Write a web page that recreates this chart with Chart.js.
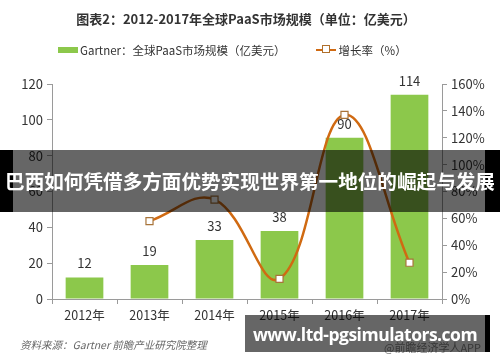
<!DOCTYPE html>
<html lang="zh">
<head>
<meta charset="UTF-8">
<script src="https://cdn.jsdelivr.net/npm/chart.js@4.4.0/dist/chart.umd.min.js"></script>
<style>
    body{
        margin: 0;
        padding: 0;
        background: #fff;
        font-family: 'Noto Sans CJK SC', 'Noto Sans', sans-serif;
    }
    .wrap{
        position: relative;
        width: 500px;
        height: 362px;
        overflow: hidden;
    }
    canvas{
        position: absolute;
        left: 0;
        top: 0;
    }
    .title{
        position: absolute;
        top: 9px;
        left: 0;
        width: 492px;
        text-align: center;
        font-size: 13px;
        font-weight: bold;
        color: #333;
    }
    .legend{
        position: absolute;
        top: 42px;
        left: 58px;
        font-size: 11.5px;
        color: #333;
        display: flex;
        align-items: center;
        white-space: nowrap;
    }
    .sw-bar{
        display: inline-block;
        width: 20px;
        height: 6px;
        background: #8cc84b;
        margin-right: 2px;
    }
    .sw-line{
        display: inline-block;
        position: relative;
        width: 20px;
        height: 2px;
        background: #d06a12;
        margin: 0 3px 0 30px;
    }
    .sw-line i{
        position: absolute;
        left: 6px;
        top: -4px;
        width: 6px;
        height: 6px;
        border: 1px solid #b0702c;
        background: #fff;
    }
    .source{
        position: absolute;
        left: 20px;
        top: 337px;
        font-size: 10.5px;
        font-style: italic;
        color: #666;
    }
    .app{
        position: absolute;
        left: 384px;
        top: 339px;
        font-size: 11px;
        color: #888;
    }
    .band{
        position: absolute;
        left: 0;
        top: 150px;
        width: 500px;
        height: 62px;
        background: linear-gradient(to right, #000 0, #000 13px, rgba(0,0,0,0.6) 13px, rgba(0,0,0,0.6) 485px, #000 485px);
    }
    .band span{
        position: absolute;
        left: 0;
        top: 18px;
        width: 500px;
        text-align: center;
        color: #fff;
        font-size: 19.6px;
        font-weight: bold;
        line-height: 26px;
        white-space: nowrap;
    }
    .site{
        position: absolute;
        left: 245px;
        top: 315px;
        width: 245px;
        height: 37px;
        background: linear-gradient(to right, rgba(0,0,0,0.6) 0, rgba(0,0,0,0.6) 240px, #000 240px);
    }
    .site span{
        position: absolute;
        left: 0;
        top: 7px;
        width: 240px;
        text-align: center;
        color: #fff;
        font-size: 17.5px;
        letter-spacing: -0.5px;
        font-weight: bold;
        line-height: 24px;
        font-family: 'Open Sans', sans-serif;
        white-space: nowrap;
    }
</style>
<title>PaaS</title>
</head>
<body>
<div class="wrap">
    <canvas id="chart" width="500" height="362"></canvas>
    <div class="title">图表2：2012-2017年全球PaaS市场规模（单位：亿美元）</div>
    <div class="legend">
        <span class="sw-bar"></span>Gartner：全球PaaS市场规模（亿美元）
        <span class="sw-line"><i></i></span>增长率（%）
    </div>
    <div class="source">资料来源：Gartner 前瞻产业研究院整理</div>
    <div class="app">@前瞻经济学人APP</div>
    <div class="band"><span>巴西如何凭借多方面优势实现世界第一地位的崛起与发展</span></div>
    <div class="site"><span>www.ltd-pgsimulators.com</span></div>
</div>
<script>
    // values
    const years = ['2012年', '2013年', '2014年', '2015年', '2016年', '2017年'];
    const marketSize = [12, 19, 33, 38, 90, 114];
    const growthRate = [null, 58, 74, 15, 137, 27];
    const leftTicks = [0, 20, 40, 60, 80, 100, 120];
    const rightTicks = [0, 20, 40, 60, 80, 100, 120, 140, 160];

    const axisGrey = '#9a9a9a';
    const tickFont = {family: "'Noto Sans CJK SC', sans-serif", size: 13};

    const barLabels = {
        id: 'barLabels',
        afterDatasetsDraw(chart){
            const ctx = chart.ctx;
            const meta = chart.getDatasetMeta(0);
            ctx.save();
            ctx.font = "13px 'Noto Sans CJK SC', sans-serif";
            ctx.fillStyle = '#333';
            ctx.textAlign = 'center';
            ctx.textBaseline = 'middle';
            meta.data.forEach(function(bar, i){
                ctx.fillText(marketSize[i], bar.x, bar.y - 14);
            });
            ctx.restore();
        }
    };

    const ctx = document.getElementById('chart').getContext('2d');
    new Chart(ctx, {
        data: {
            labels: years,
            datasets: [{
                type: 'bar',
                label: 'Gartner：全球PaaS市场规模（亿美元）',
                data: marketSize,
                backgroundColor: '#8cc84b',
                barPercentage: 0.58,
                categoryPercentage: 1,
                yAxisID: 'y',
                order: 2
            }, {
                type: 'line',
                label: '增长率（%）',
                data: growthRate,
                borderColor: '#d06a12',
                borderWidth: 2.5,
                tension: 0.4,
                pointStyle: 'rect',
                pointRadius: 5,
                pointBackgroundColor: '#fff',
                pointBorderColor: '#a8743a',
                pointBorderWidth: 1.2,
                yAxisID: 'y1',
                order: 1
            }]
        },
        options: {
            responsive: false,
            animation: false,
            layout: {padding: {top: 84, left: 0, right: 0, bottom: 0}},
            plugins: {legend: {display: false}, tooltip: {enabled: false}},
            scales: {
                x: {
                    offset: true,
                    grid: {offset: true, drawOnChartArea: false, tickLength: 5, color: axisGrey},
                    border: {color: axisGrey},
                    ticks: {color: '#333', font: {family: tickFont.family, size: 12.5}, padding: 4},
                    afterFit(s){ s.height = 63; }
                },
                y: {
                    position: 'left',
                    min: 0,
                    max: 120,
                    afterBuildTicks(s){ s.ticks = leftTicks.map(v => ({value: v})); },
                    grid: {drawOnChartArea: false, tickLength: 5, color: axisGrey},
                    border: {color: axisGrey},
                    ticks: {color: '#333', font: tickFont, padding: 4},
                    afterFit(s){ s.width = 52; }
                },
                y1: {
                    position: 'right',
                    min: 0,
                    max: 160,
                    afterBuildTicks(s){ s.ticks = rightTicks.map(v => ({value: v})); },
                    grid: {drawOnChartArea: false, tickLength: 5, color: axisGrey},
                    border: {color: axisGrey},
                    ticks: {color: '#333', font: tickFont, padding: 4, callback: v => v + '%'},
                    afterFit(s){ s.width = 58; }
                }
            }
        },
        plugins: [barLabels]
    });
</script>
</body>
</html>
